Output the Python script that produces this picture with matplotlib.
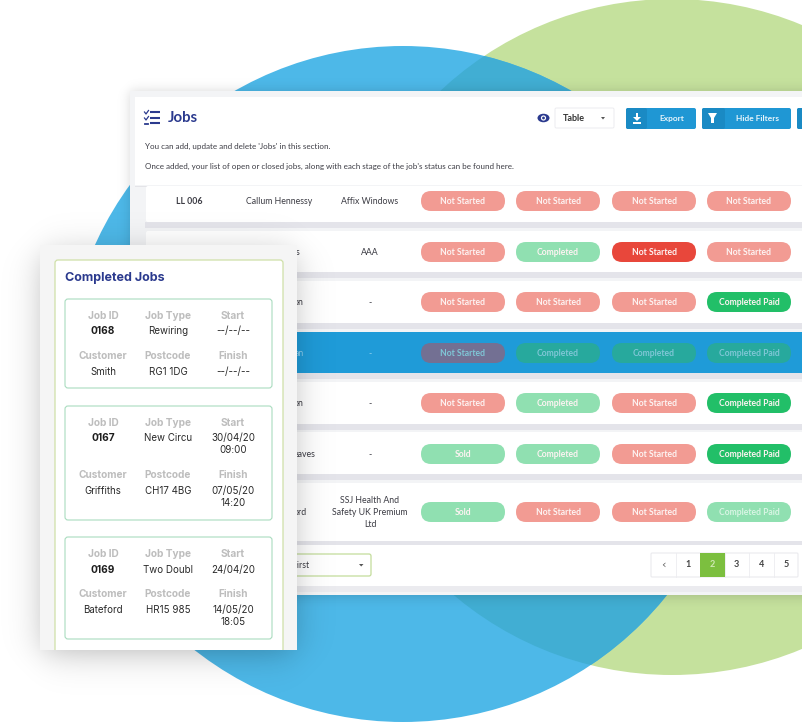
import matplotlib
matplotlib.use("Agg")
import matplotlib.pyplot as plt
import numpy as np
from matplotlib.patches import Circle, FancyBboxPatch, Rectangle, Polygon, Ellipse

W, H = 802, 722

# table data
row_refs = ["LL 006", "s", "on", "an", "on", "eaves", "ord"]
row_names = ["Callum Hennessy", "", "", "", "", "", ""]
row_companies = ["Affix Windows", "AAA", "-", "-", "-", "-", "SSJ Health And\nSafety UK Premium\nLtd"]
row_status = [
    ["not_started", "not_started", "not_started", "not_started"],
    ["not_started", "completed", "not_started_solid", "not_started"],
    ["not_started", "not_started", "not_started", "paid"],
    ["not_started", "completed", "completed", "paid"],
    ["not_started", "completed", "not_started", "paid"],
    ["sold", "completed", "not_started", "paid"],
    ["sold", "not_started", "not_started", "paid_light"],
]
selected_row = 3
pages = ["1", "2", "3", "4", "5"]
active_page = "2"

# completed jobs card data
job_ids = ["0168", "0167", "0169"]
job_types = ["Rewiring", "New Circu", "Two Doubl"]
job_starts = ["--/--/--", "30/04/20\n09:00", "24/04/20"]
job_customers = ["Smith", "Griffiths", "Bateford"]
job_postcodes = ["RG1 1DG", "CH17 4BG", "HR15 985"]
job_finishes = ["--/--/--", "07/05/20\n14:20", "14/05/20\n18:05"]

# styles
labels = {"not_started": "Not Started", "not_started_solid": "Not Started", "completed": "Completed",
          "sold": "Sold", "paid": "Completed Paid", "paid_light": "Completed Paid"}
pill_colors = {"not_started": "#f29b93", "not_started_solid": "#e8473b", "completed": "#90e0b1",
               "sold": "#90e0b1", "paid": "#22bf68", "paid_light": "#90e0b1"}
pill_colors_sel = {"not_started": "#737093", "completed": "#27a99d", "paid": "#27a99d"}
NAVY = "#2b3a8e"
BTN = "#1f97d4"
BTN_DARK = "#1a8ac4"
BODY_FONT = "Lato"
CARD_FONT = "Inter"

fig = plt.figure(figsize=(W / 100, H / 100), dpi=100)
ax = fig.add_axes([0, 0, 1, 1])
ax.axis("off")


def rbox(x0, y0, x1, y1, r=0, fc="white", ec="none", lw=0, z=2, alpha=None):
    p = FancyBboxPatch((x0, y0), x1 - x0, y1 - y0, boxstyle=f"round,pad=0,rounding_size={r}",
                       fc=fc, ec=ec, lw=lw, zorder=z, alpha=alpha)
    ax.add_patch(p)
    return p


def shadow(x0, y0, x1, y1, soft, strength, z):
    # soft box shadow as an rgba image
    xs = np.arange(W) + 0.5
    ys = np.arange(H) + 0.5
    sx = 0.5 * (np.tanh((xs - x0) / soft) - np.tanh((xs - x1) / soft))
    sy = 0.5 * (np.tanh((ys - y0) / soft) - np.tanh((ys - y1) / soft))
    img = np.zeros((H, W, 4))
    img[..., 3] = strength * np.outer(sy, sx)
    ax.imshow(img, extent=(0, W, H, 0), aspect="auto", zorder=z, interpolation="bilinear")


def txt(x, y, s, size=6.3, color="#3c3c44", ha="center", weight="normal", z=5, family=BODY_FONT, ls=1.2):
    ax.text(x, y + 0.8, s, fontsize=size, color=color, ha=ha, va="center", fontweight=weight,
            zorder=z, family=family, linespacing=ls)


# background circles
green = Circle((672, 337), 338, fc="#c5e19d", ec="none", zorder=1)
ax.add_patch(green)
ax.add_patch(Circle((403, 384), 338, fc="#4db8e8", ec="none", zorder=1.1))
overlap = Circle((403, 384), 338, fc="#41aed3", ec="none", zorder=1.2)
ax.add_patch(overlap)
overlap.set_clip_path(green)

# main panel
shadow(130, 91, 860, 597, 7, 0.16, 1.5)
ax.add_patch(Rectangle((130, 91), 672, 504, fc="#f3f4f6", ec="none", zorder=2))
ax.add_patch(Rectangle((135, 97), 667, 88, fc="white", ec="none", zorder=2.1))
ax.plot([135, 802], [185.5, 185.5], color="#e4e4e8", lw=0.7, zorder=2.2)

# header: list icon
for yy in (112, 118, 123):
    ax.plot([150, 160], [yy, yy], color=NAVY, lw=1.5, zorder=5, solid_capstyle="butt")
ax.plot([144.5, 146, 148.5], [112, 114, 110.5], color=NAVY, lw=0.9, zorder=5)
ax.plot([144.5, 146, 148.5], [118, 120, 116.5], color=NAVY, lw=0.9, zorder=5)
ax.plot([145, 147.5], [123.5, 123.5], color=NAVY, lw=1.3, zorder=5)
txt(168, 117.5, "Jobs", size=10.8, color=NAVY, ha="left", weight="bold")
txt(145, 146, "You can add, update and delete 'Jobs' in this section.", size=5.8, ha="left")
txt(145, 166, "Once added, your list of open or closed jobs, along with each stage of the job's status can be found here.",
    size=5.72, ha="left")

# header: eye and view dropdown
ax.add_patch(Ellipse((543.5, 118), 12, 8.5, fc=NAVY, ec="none", zorder=5))
ax.add_patch(Circle((543.5, 118), 2.6, fc="white", ec="none", zorder=5.1))
ax.add_patch(Circle((543.5, 118), 1.4, fc=NAVY, ec="none", zorder=5.2))
rbox(555, 108, 614, 128, r=1.5, fc="white", ec="#ececf0", lw=0.7, z=3)
txt(563, 117.5, "Table", size=6.5, ha="left", color="#333333", weight="bold")
ax.add_patch(Polygon([[601, 117], [605, 117], [603, 119.5]], fc="#555555", ec="none", zorder=5))

# header: buttons
for x0, x1, split, label in [(626, 696, 647, "Export"), (702, 791, 725, "Hide Filters"), (797, 830, 820, "")]:
    rbox(x0, 108, x1, 129, r=2, fc=BTN, z=3)
    rbox(x0, 108, split, 129, r=2, fc=BTN_DARK, z=3.1)
    txt((split + x1) / 2, 117.5, label, size=6, color="#e8f5fb", weight="bold", z=5)
ax.add_patch(Polygon([[633, 117], [641, 117], [637, 121]], fc="white", ec="none", zorder=5))
ax.add_patch(Rectangle((636, 113), 2, 5, fc="white", ec="none", zorder=5))
ax.add_patch(Rectangle((633, 122), 8, 1.5, fc="white", ec="none", zorder=5))
ax.add_patch(Polygon([[708, 113], [717, 113], [714, 118], [714, 123], [711, 123], [711, 118]],
                     fc="white", ec="none", zorder=5))
ax.add_patch(Rectangle((803, 113), 8, 10, fc="white", ec="none", zorder=5))

# table rows
row_tops = [186, 231, 281, 332, 382, 432, 483]
row_bottoms = [222, 272, 323, 373, 424, 474, 541]
row_centers = [201, 252, 302, 353, 403, 454, 512]
ref_right = [189, 299, 304, 304, 304, 316, 307]
pill_x = [463, 558, 654, 749]
for i, ref in enumerate(row_refs):
    top, bot, yc = row_tops[i], row_bottoms[i], row_centers[i]
    sel = i == selected_row
    ax.add_patch(Rectangle((145, bot), 660, 6, fc="#e4e4ea", ec="none", zorder=2.3))
    rbox(146, top, 830, bot, r=2, fc="#1f9bd8" if sel else "white", z=2.5)
    txt(ref_right[i], yc - 0.5, ref, ha="center" if i == 0 else "right", weight="bold" if i == 0 else "normal",
        color="#8fd0ee" if sel else "#3c3c44")
    if row_names[i]:
        txt(279, yc - 0.5, row_names[i])
    txt(370, yc - 0.5, row_companies[i], color="#8fd0ee" if sel else "#3c3c44", ls=1.45)
    for px, st in zip(pill_x, row_status[i]):
        fc = pill_colors_sel[st] if sel else pill_colors[st]
        rbox(px - 42, yc - 10, px + 42, yc + 10, r=10, fc=fc, z=3)
        tc = "#7fc6d6" if sel else "#fdf3f2"
        if st == "paid_light":
            tc = "#d8f5e4"
        txt(px, yc - 0.5, labels[st], color=tc, weight="bold", size=6.2)

# footer
ax.add_patch(Rectangle((145, 545), 660, 41, fc="white", ec="none", zorder=2.5))
ax.add_patch(Rectangle((145, 586), 660, 6, fc="#ebebef", ec="none", zorder=2.4))
rbox(200, 554, 371, 576, r=2, fc="white", ec="#c3dc9b", lw=0.9, z=3)
txt(292.5, 564.5, "First", ha="left", size=6.3)
ax.add_patch(Polygon([[359, 564], [363.5, 564], [361.2, 566.5]], fc="#555555", ec="none", zorder=5))

cell_x = 651
cell_w = 24.5
rbox(cell_x, 553, cell_x + cell_w * 6, 577, r=1, fc="white", ec="#e8e8ec", lw=0.7, z=3)
txt(cell_x + cell_w / 2, 564, "‹", size=8, color="#666666", family="DejaVu Sans")
for n, page in enumerate(pages):
    x0 = cell_x + cell_w * (n + 1)
    if page == active_page:
        ax.add_patch(Rectangle((x0, 553), cell_w, 24, fc="#7cbf3f", ec="none", zorder=3.2))
    ax.plot([x0, x0], [553, 577], color="#ececf0", lw=0.6, zorder=3.1)
    txt(x0 + cell_w / 2, 564, page, size=6.5, weight="bold", color="#cfe9b3" if page == active_page else "#444444")

# completed jobs card
shadow(44, 255, 293, 652, 20, 0.30, 6)
ax.add_patch(Rectangle((40, 245), 257, 405, fc="#f5f5f5", ec="none", zorder=7))
inner = rbox(55, 260, 283, 670, r=3, fc="white", ec="#cfe0a8", lw=0.9, z=7.1)
inner.set_clip_path(Rectangle((40, 245), 257, 405, transform=ax.transData))
txt(65, 277.5, "Completed Jobs", size=9, color=NAVY, ha="left", weight="bold", z=8, family=CARD_FONT)

card_tops = [299, 406, 537]
card_bottoms = [388, 520, 639]
col_x = [103, 168, 233]
label_y1 = [315.5, 422.5, 553.5]
value_y1 = [330.5, 437.5, 569.5]
label_y2 = [355.5, 474.5, 593.5]
value_y2 = [371.5, 490.5, 609.5]
GREY = "#bdbdbd"
DARK = "#2a2a2a"
for j in range(len(job_ids)):
    rbox(65, card_tops[j], 272, card_bottoms[j], r=3, fc="white", ec="#a9dcbf", lw=0.8, z=7.5)
    for x, s in zip(col_x, ["Job ID", "Job Type", "Start"]):
        txt(x, label_y1[j], s, size=7.3, color=GREY, z=8, family=CARD_FONT, weight="bold")
    for x, s in zip(col_x, ["Customer", "Postcode", "Finish"]):
        txt(x, label_y2[j], s, size=7.3, color=GREY, z=8, family=CARD_FONT, weight="bold")
    txt(col_x[0], value_y1[j], job_ids[j], size=7.3, color="#1d1d1d", weight="bold", z=8, family=CARD_FONT)
    txt(col_x[1], value_y1[j], job_types[j], size=7, color=DARK, z=8, family=CARD_FONT)
    txt(col_x[0], value_y2[j], job_customers[j], size=7, color=DARK, z=8, family=CARD_FONT)
    txt(col_x[1], value_y2[j], job_postcodes[j], size=7, color=DARK, z=8, family=CARD_FONT)
    for y, s in [(value_y1[j], job_starts[j]), (value_y2[j], job_finishes[j])]:
        for k, line in enumerate(s.split("\n")):
            txt(col_x[2], y + k * 12, line, size=7, color=DARK, z=8, family=CARD_FONT)

ax.set_xlim(0, W)
ax.set_ylim(H, 0)
fig.savefig("out.png", dpi=100)
